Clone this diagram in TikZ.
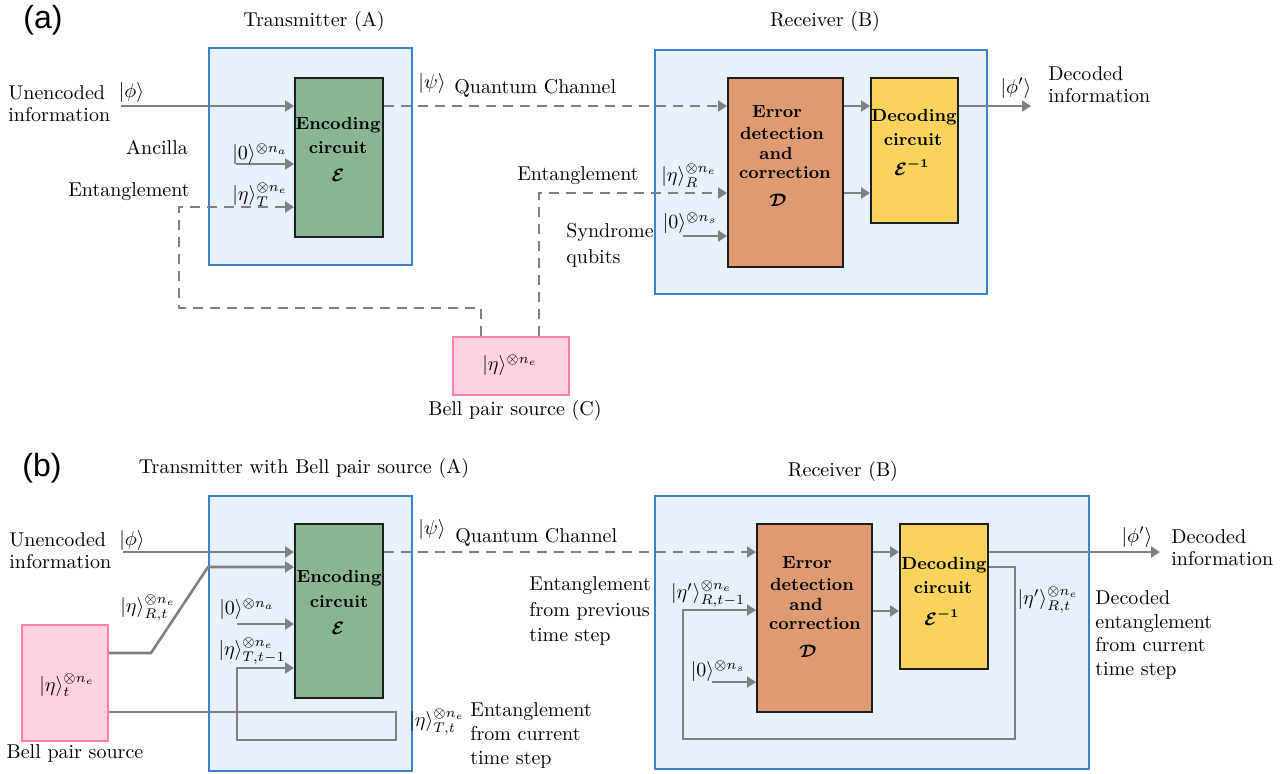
\documentclass[tikz,border=0pt]{standalone}
\usepackage{amsmath,bm}
\usepackage{fontspec}
\newfontfamily\panelfont{Liberation Sans}
\usetikzlibrary{arrows.meta}
\definecolor{outerblue}{HTML}{3F7FD0}
\definecolor{outerfill}{HTML}{E8F0FA}
\definecolor{encgreen}{HTML}{8BB592}
\definecolor{errorange}{HTML}{DF9A70}
\definecolor{decyellow}{HTML}{F9D35B}
\definecolor{bellfill}{HTML}{FFD1E1}
\definecolor{bellline}{HTML}{FF7FA7}
\definecolor{wiregray}{HTML}{808080}
\definecolor{blkline}{HTML}{1E1E1E}
\tikzset{
  outerbox/.style={draw=outerblue, fill=outerfill, line width=1pt, anchor=north west, inner sep=0pt},
  blkbox/.style={draw=blkline, line width=1.2pt, anchor=north west, inner sep=0pt},
  bellbox/.style={draw=bellline, fill=bellfill, line width=1pt, anchor=north west, inner sep=0pt},
  wire/.style={draw=wiregray, line width=1.3pt},
  arr/.style={wire, -{Triangle[length=4.5pt,width=5.5pt]}},
  dwire/.style={wire, dash pattern=on 5pt off 3.5pt},
  darr/.style={dwire, -{Triangle[length=4.5pt,width=5.5pt]}},
  txt/.style={inner sep=0pt, font=\fontsize{10}{11}\selectfont, align=left},
  btxt/.style={inner sep=0pt, font=\bfseries\fontsize{8.8}{10}\selectfont},
  paneltxt/.style={inner sep=0pt, font=\panelfont\fontsize{16}{18}\selectfont},
}
\begin{document}
\begin{tikzpicture}[x=0.5pt,y=-0.5pt]
\useasboundingbox (0,0) rectangle (1285,773);

% ================= (a) =================
\node[paneltxt] (pa) at (43,20) {(a)};
\node[txt] (tA) at (314,21) {Transmitter (A)};
\node[txt] (rB) at (825,21) {Receiver (B)};

\node[outerbox, minimum width=101.5pt, minimum height=108.5pt] (TA) at (208,47) {};
\node[outerbox, minimum width=166pt, minimum height=122pt] (RB) at (654,49) {};

\node[blkbox, fill=encgreen, minimum width=44pt, minimum height=79.5pt] (enc) at (294,77) {};
\node[blkbox, fill=errorange, minimum width=57.5pt, minimum height=94.5pt] (err) at (727,77) {};
\node[blkbox, fill=decyellow, minimum width=43.5pt, minimum height=72.5pt] (dec) at (870,77) {};
\node[bellbox, minimum width=58pt, minimum height=29pt] (bellC) at (452,336) {};

% texts in blocks
\node[btxt] (encL1) at (338,125) {Encoding};
\node[btxt] (encL2) at (338,148) {circuit};
\node[btxt] (encL3) at (338,175) {$\bm{\mathcal{E}}$};
\node[btxt] (errL1) at (777,112) {Error};
\node[btxt] (errL2) at (782,133) {detection};
\node[btxt] (errL3) at (776,153) {and};
\node[btxt] (errL4) at (785,173) {correction};
\node[btxt] (errL5) at (778,200) {$\bm{\mathcal{D}}$};
\node[btxt] (decL1) at (914,117) {Decoding};
\node[btxt] (decL2) at (913,140) {circuit};
\node[btxt] (decL3) at (912,167) {$\bm{\mathcal{E}^{-1}}$};
\node[txt] (bellCL) at (510,365) {$|\eta\rangle^{\otimes n_e}$};
\node[txt] (bellCcap) at (515,410) {Bell pair source (C)};

% connectors (a)
\coordinate (phiA) at (121,106);
\coordinate (ancA) at (236,164);
\coordinate (tkA) at (481,308);
\coordinate (tkB) at (179,207);
\coordinate (rkA) at (539,193);
\coordinate (synA) at (683,236);
\coordinate (outA) at (1031,106);
\draw[arr] (phiA) -- (phiA -| enc.west);
\draw[arr] (ancA) -- (ancA -| enc.west);
\draw[darr] (tkA |- bellC.north) -- (tkA) -| (tkB) -- (tkB -| enc.west);
\draw[darr] (rkA |- bellC.north) -- (rkA) -- (rkA -| err.west);
\draw[darr] (enc.east |- phiA) -- (err.west |- phiA);
\draw[arr] (synA) -- (synA -| err.west);
\draw[arr] (err.east |- phiA) -- (dec.west |- phiA);
\draw[arr] (err.east |- rkA) -- (dec.west |- rkA);
\draw[arr] (dec.east |- outA) -- (outA);

% labels (a)
\node[txt, anchor=west] (uncA) at (8,104) {Unencoded\\information};
\node[txt] (phiAL) at (131.5,92) {$|\phi\rangle$};
\node[txt] (ancAL) at (157,147) {Ancilla};
\node[txt] (zeroAL) at (260,154) {$|0\rangle^{\otimes n_a}$};
\node[txt] (entAL) at (129,192) {Entanglement};
\node[txt] (etaTL) at (260,195) {$|\eta\rangle_T^{\otimes n_e}$};
\node[txt] (psiAL) at (432,83) {$|\psi\rangle$};
\node[txt, anchor=west] (qcA) at (454,88) {Quantum Channel};
\node[txt] (entRL) at (578,176) {Entanglement};
\node[txt] (etaRL) at (689,176) {$|\eta\rangle_R^{\otimes n_e}$};
\node[txt] (zeroSL) at (690,223) {$|0\rangle^{\otimes n_s}$};
\node[txt, anchor=west, font=\fontsize{10}{13}\selectfont] (synAL) at (566,245) {Syndrome\\qubits};
\node[txt] (phipAL) at (1016,88) {$|\phi'\rangle$};
\node[txt, anchor=west] (decAL) at (1048,85) {Decoded\\information};

% ================= (b) =================
\node[paneltxt] (pb) at (42,468) {(b)};
\node[txt] (tB) at (304,468) {Transmitter with Bell pair source (A)};
\node[txt] (rB2) at (843,471) {Receiver (B)};

\node[outerbox, minimum width=101.5pt, minimum height=137.5pt] (TB) at (208,495) {};
\node[outerbox, minimum width=217pt, minimum height=136.5pt] (RB2) at (654,495) {};

\node[blkbox, fill=encgreen, minimum width=44pt, minimum height=87pt] (enc2) at (294,523) {};
\node[blkbox, fill=errorange, minimum width=57.5pt, minimum height=94pt] (err2) at (756,523) {};
\node[blkbox, fill=decyellow, minimum width=44pt, minimum height=72.5pt] (dec2) at (899,523) {};
\node[bellbox, minimum width=43pt, minimum height=58pt] (bell2) at (21,624) {};

\node[btxt] (enc2L1) at (339,578) {Encoding};
\node[btxt] (enc2L2) at (339,602) {circuit};
\node[btxt] (enc2L3) at (338,628) {$\bm{\mathcal{E}}$};
\node[btxt] (err2L1) at (807,563) {Error};
\node[btxt] (err2L2) at (812,584) {detection};
\node[btxt] (err2L3) at (806,604) {and};
\node[btxt] (err2L4) at (815,624) {correction};
\node[btxt] (err2L5) at (808,651) {$\bm{\mathcal{D}}$};
\node[btxt] (dec2L1) at (944,565) {Decoding};
\node[btxt] (dec2L2) at (943,588) {circuit};
\node[btxt] (dec2L3) at (942,617) {$\bm{\mathcal{E}^{-1}}$};
\node[txt] (bell2L) at (67,685) {$|\eta\rangle_t^{\otimes n_e}$};
\node[txt] (bell2cap) at (75,753) {Bell pair source};

% connectors (b)
\coordinate (phiB) at (123,552);
\coordinate (kB1) at (151,653);
\coordinate (kB2) at (208,567);
\coordinate (ancB) at (237,624);
\coordinate (lB0) at (396,712);
\coordinate (lB1) at (396,740);
\coordinate (lB2) at (237,668);
\coordinate (mB1) at (1015,567);
\coordinate (mB2) at (683,739);
\coordinate (mB3) at (683,610);
\coordinate (errB) at (756,611);
\coordinate (synB) at (712,682);
\coordinate (outB) at (1160,552);
\draw[arr] (phiB) -- (phiB -| enc2.west);
\draw[arr] (bell2.east |- kB1) -- (kB1) -- (kB2) -- (kB2 -| enc2.west);
\draw[arr] (ancB) -- (ancB -| enc2.west);
\draw[arr] (bell2.east |- lB0) -- (lB0) -- (lB1) -| (lB2) -- (lB2 -| enc2.west);
\draw[darr] (enc2.east |- phiB) -- (err2.west |- phiB);
\draw[arr] (err2.east |- phiB) -- (dec2.west |- phiB);
\draw[arr] (err2.east |- errB) -- (dec2.west |- errB);
\draw[arr] (dec2.east |- outB) -- (outB);
\draw[arr] (dec2.east |- mB1) -- (mB1) |- (mB2) -- (mB3) -- (mB3 -| err2.west);
\draw[arr] (synB) -- (synB -| err2.west);

% labels (b)
\node[txt, anchor=west] (uncB) at (9,551) {Unencoded\\information};
\node[txt] (phiBL) at (132,540) {$|\phi\rangle$};
\node[txt] (etaRtL) at (148,608) {$|\eta\rangle_{R,t}^{\otimes n_e}$};
\node[txt] (zeroBL) at (247,609) {$|0\rangle^{\otimes n_a}$};
\node[txt] (etaTt1L) at (252,651) {$|\eta\rangle_{T,t-1}^{\otimes n_e}$};
\node[txt] (psiBL) at (432,529) {$|\psi\rangle$};
\node[txt, anchor=west] (qcB) at (455,537) {Quantum Channel};
\node[txt, anchor=west, font=\fontsize{10}{12.75}\selectfont] (prevL) at (529,611) {Entanglement\\from previous\\time step};
\node[txt] (etaRt1L) at (708,594) {$|\eta'\rangle_{R,t-1}^{\otimes n_e}$};
\node[txt] (zeroSBL) at (718,671) {$|0\rangle^{\otimes n_s}$};
\node[txt] (etaTtL) at (437,722) {$|\eta\rangle_{T,t}^{\otimes n_e}$};
\node[txt, anchor=west, font=\fontsize{10}{12}\selectfont] (curL) at (470,735) {Entanglement\\from current\\time step};
\node[txt] (phipBL) at (1137,537) {$|\phi'\rangle$};
\node[txt, anchor=west] (decBL) at (1171,548) {Decoded\\information};
\node[txt] (etapRtL) at (1048,600) {$|\eta'\rangle_{R,t}^{\otimes n_e}$};
\node[txt, anchor=west, font=\fontsize{10}{11.75}\selectfont] (decEntL) at (1095,635) {Decoded\\entanglement\\from current\\time step};
\end{tikzpicture}
\end{document}
